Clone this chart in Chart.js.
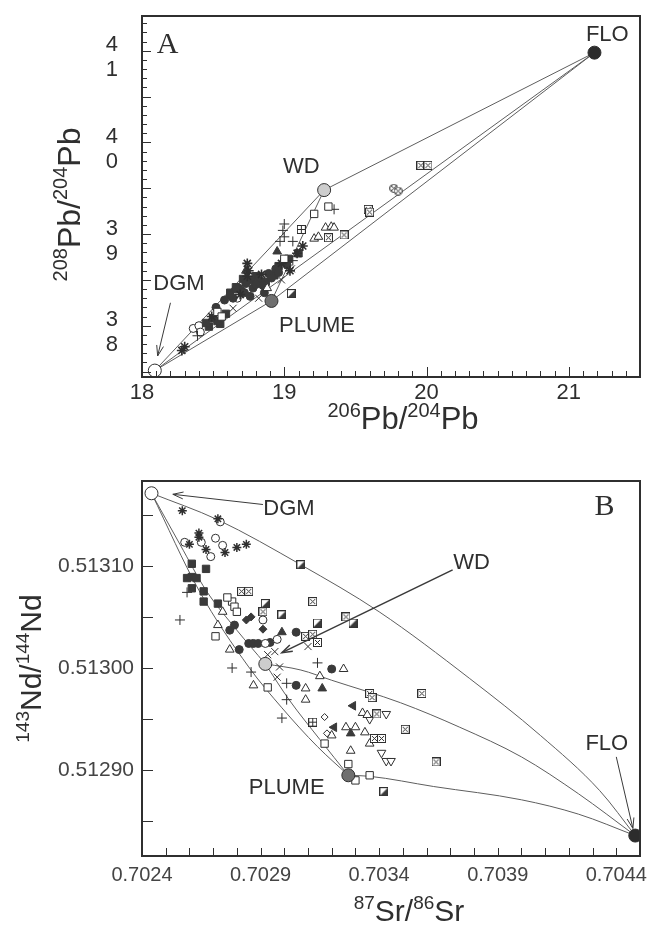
<!DOCTYPE html>
<html>
<head>
<meta charset="utf-8">
<title>Pb and Sr-Nd isotope mixing diagrams</title>
<script src="https://cdn.jsdelivr.net/npm/chart.js@4.4.1/dist/chart.umd.min.js"></script>
<style>
  body { margin: 0; background: #fff; }
  #wrap { position: relative; width: 652px; height: 928px; }
  canvas { position: absolute; left: 0; }
  #chartA { top: 0; }
  #chartB { top: 440px; }
</style>
</head>
<body>
<div id="wrap">
  <canvas id="chartA" width="652" height="440"></canvas>
  <canvas id="chartB" width="652" height="488"></canvas>
</div>
<script>
// ---------- Panel A: 206Pb/204Pb vs 208Pb/204Pb ----------
const pbXTicks = [18, 19, 20, 21];
const pbYTicks = [38, 39, 40, 41];

// end-members, same order in both panels
const endNames = ["DGM", "WD", "PLUME", "FLO"];
const endPb206 = [18.09, 19.28, 18.91, 21.18];
const endPb208 = [37.51, 39.48, 38.27, 40.98];
// which end-members are joined by a mixing line
const mixLinks = [[0, 1], [1, 3], [0, 3], [0, 2], [2, 3], [1, 2]];

// samples, one list per symbol  [206Pb/204Pb, 208Pb/204Pb]
const aOpenSquare = [[19.31, 39.30], [19.21, 39.22], [18.53, 38.15], [18.56, 38.10], [19.00, 38.73]];
const aPlus = [[19.35, 39.27], [18.99, 39.04], [19.00, 38.97], [18.97, 38.92], [19.06, 38.92], [18.39, 37.89], [19.06, 38.71], [19.00, 39.11]];
const aPlusSquare = [[19.12, 39.05]];
const aOpenTriangle = [[19.29, 39.07], [19.33, 39.08], [19.35, 39.07], [19.21, 38.95], [19.24, 38.97], [18.88, 38.41]];
const aCrossSquare = [[19.96, 39.75], [20.01, 39.75], [19.59, 39.27], [19.60, 39.24], [19.42, 38.99], [19.31, 38.96]];
const aCircleCross = [[19.77, 39.50], [19.80, 39.47]];
const aHalfSquare = [[19.05, 38.35]];
const aStar = [[18.74, 38.68], [18.75, 38.60], [18.74, 38.54], [18.30, 37.77], [18.28, 37.73], [18.49, 38.10], [19.13, 38.87], [19.09, 38.79], [19.04, 38.60], [18.69, 38.34], [18.98, 38.68], [18.84, 38.56]];
const aFilledCircle = [[18.68, 38.41], [18.73, 38.46], [18.78, 38.41], [18.83, 38.49], [18.89, 38.57], [18.94, 38.62], [19.00, 38.71], [18.64, 38.30], [18.76, 38.32], [18.70, 38.38], [18.85, 38.44], [18.91, 38.52],
  [18.62, 38.33], [18.66, 38.40], [18.72, 38.36], [18.80, 38.45], [18.58, 38.28], [18.52, 38.20], [18.96, 38.58], [19.02, 38.66], [18.86, 38.36]];
const aFilledSquare = [[18.71, 38.51], [18.80, 38.54], [18.87, 38.48], [18.96, 38.65], [19.03, 38.73], [18.50, 38.08], [18.55, 38.02], [18.47, 37.99], [18.59, 38.13], [19.10, 38.79], [18.62, 38.36],
  [18.66, 38.42], [18.77, 38.50], [18.93, 38.55], [18.53, 38.05], [18.45, 38.03]];
const aFilledTriangle = [[18.95, 38.81], [18.73, 38.60]];
const aOpenCircle = [[18.36, 37.97], [18.40, 38.00], [18.41, 37.93], [18.67, 38.30]];
const aCross = [[18.82, 38.30], [18.90, 38.54], [18.64, 38.19], [18.98, 38.50], [19.05, 38.62]];

// ---------- Panel B: 87Sr/86Sr vs 143Nd/144Nd ----------
const srTicks = [0.7024, 0.7029, 0.7034, 0.7039, 0.7044];
const ndTicks = [0.5129, 0.5130, 0.5131];

const endSr = [0.70244, 0.70292, 0.70327, 0.70448];
const endNd = [0.513171, 0.513004, 0.512895, 0.512836];

// mixing curves  [87Sr/86Sr, 143Nd/144Nd]
const curveDgmWd = [[0.70244, 0.513171], [0.70256, 0.513121], [0.70267, 0.513076], [0.70280, 0.513037], [0.70292, 0.513004]];
const curveWdFlo = [[0.70292, 0.513004], [0.70307, 0.512998], [0.70320, 0.512988], [0.70349, 0.512966], [0.70374, 0.512942], [0.70400, 0.512913], [0.70424, 0.512877], [0.70448, 0.512836]];
const curveDgmFlo = [[0.70244, 0.513171], [0.70272, 0.513145], [0.70307, 0.513101], [0.70340, 0.513055], [0.70378, 0.512990], [0.70408, 0.512934], [0.70433, 0.512880], [0.70448, 0.512836]];
const curveDgmPlume = [[0.70244, 0.513171], [0.70264, 0.513076], [0.70285, 0.513001], [0.70299, 0.512961], [0.70314, 0.512923], [0.70327, 0.512895]];
const curvePlumeFlo = [[0.70327, 0.512895], [0.70336, 0.512894], [0.70363, 0.512884], [0.70400, 0.512871], [0.70424, 0.512857], [0.70448, 0.512836]];
const curveWdPlume = [[0.70292, 0.513004], [0.70302, 0.512969], [0.70315, 0.512930], [0.70327, 0.512895]];

const bStar = [[0.70257, 0.513154], [0.70272, 0.513146], [0.70264, 0.513132], [0.70264, 0.513128], [0.70260, 0.513121], [0.70267, 0.513116], [0.70275, 0.513113], [0.70280, 0.513118], [0.70284, 0.513121]];
const bOpenCircle = [[0.70273, 0.513143], [0.70258, 0.513123], [0.70265, 0.513123], [0.70271, 0.513127], [0.70274, 0.513120], [0.70269, 0.513109], [0.70291, 0.513047], [0.70292, 0.513024], [0.70297, 0.513028]];
const bFilledSquare = [[0.70261, 0.513102], [0.70267, 0.513097], [0.70261, 0.513089], [0.70263, 0.513088], [0.70261, 0.513078], [0.70266, 0.513075], [0.70266, 0.513065], [0.70272, 0.513063], [0.70259, 0.513088]];
const bPlus = [[0.70259, 0.513074], [0.70256, 0.513047], [0.70278, 0.513000], [0.70286, 0.512996], [0.70301, 0.512985], [0.70301, 0.512969], [0.70299, 0.512951], [0.70314, 0.513005]];
const bHalfSquare = [[0.70307, 0.513101], [0.70292, 0.513063], [0.70299, 0.513052], [0.70314, 0.513044], [0.70329, 0.513044], [0.70342, 0.512879]];
const bCrossSquare = [[0.70282, 0.513075], [0.70285, 0.513075], [0.70312, 0.513065], [0.70291, 0.513055], [0.70309, 0.513031], [0.70312, 0.513033], [0.70314, 0.513025], [0.70326, 0.513050], [0.70336, 0.512975], [0.70337, 0.512971], [0.70358, 0.512975], [0.70339, 0.512955], [0.70338, 0.512931], [0.70341, 0.512931], [0.70364, 0.512908], [0.70351, 0.512940]];
const bOpenSquare = [[0.70278, 0.513065], [0.70279, 0.513060], [0.70280, 0.513055], [0.70271, 0.513031], [0.70293, 0.512981], [0.70317, 0.512926], [0.70327, 0.512906], [0.70336, 0.512895], [0.70330, 0.512890], [0.70276, 0.513069]];
const bFilledDiamond = [[0.70284, 0.513047], [0.70286, 0.513050], [0.70291, 0.513038]];
const bFilledCircle = [[0.70305, 0.513035], [0.70285, 0.513024], [0.70287, 0.513024], [0.70289, 0.513024], [0.70294, 0.513025], [0.70281, 0.513018], [0.70320, 0.512999], [0.70305, 0.512983], [0.70277, 0.513037], [0.70279, 0.513042]];
const bOpenTriangle = [[0.70272, 0.513042], [0.70277, 0.513018], [0.70287, 0.512983], [0.70325, 0.512999], [0.70315, 0.512992], [0.70309, 0.512980], [0.70309, 0.512969], [0.70333, 0.512956], [0.70335, 0.512954], [0.70326, 0.512942], [0.70330, 0.512942], [0.70320, 0.512934], [0.70334, 0.512937], [0.70336, 0.512926], [0.70328, 0.512919], [0.70274, 0.513055]];
const bFilledTriangle = [[0.70299, 0.513035], [0.70316, 0.512980], [0.70328, 0.512936]];
const bLeftTriangle = [[0.70329, 0.512963], [0.70321, 0.512942]];
const bInvTriangle = [[0.70343, 0.512955], [0.70336, 0.512950], [0.70341, 0.512917], [0.70343, 0.512909], [0.70345, 0.512909]];
const bCross = [[0.70296, 0.513016], [0.70310, 0.513021], [0.70298, 0.513001], [0.70297, 0.512991], [0.70293, 0.513013]];
const bPlusSquare = [[0.70312, 0.512947]];
const bOpenDiamond = [[0.70317, 0.512952], [0.70318, 0.512936]];

// ---------- styling ----------
const ink = "#2f2f2f";
const mixGray = "#5e5e5e";
const dark = "#3a3a3a";
const endFill = ["#ffffff", "#cdcdcd", "#6f6f6f", "#2c2c2c"];
const fontSans = "'Liberation Sans', Arial, sans-serif";
const fontSerif = "'Liberation Serif', 'Times New Roman', serif";
Chart.defaults.font.family = fontSans;
Chart.defaults.color = ink;

// small canvases used as point styles for the boxed symbols
function markerImage(draw) {
  const c = document.createElement("canvas");
  c.width = 9;
  c.height = 9;
  const g = c.getContext("2d");
  g.strokeStyle = ink;
  g.fillStyle = "#fff";
  g.lineWidth = 1;
  draw(g);
  return c;
}
function box(g) {
  g.fillRect(0.5, 0.5, 8, 8);
  g.strokeRect(0.5, 0.5, 8, 8);
}
const crossSquareImg = markerImage((g) => {
  box(g);
  g.beginPath();
  g.moveTo(2, 2); g.lineTo(7, 7);
  g.moveTo(7, 2); g.lineTo(2, 7);
  g.stroke();
});
const plusSquareImg = markerImage((g) => {
  box(g);
  g.beginPath();
  g.moveTo(4.5, 1); g.lineTo(4.5, 8);
  g.moveTo(1, 4.5); g.lineTo(8, 4.5);
  g.stroke();
});
const halfSquareImg = markerImage((g) => {
  box(g);
  g.fillStyle = dark;
  g.beginPath();
  g.moveTo(8.5, 0.5); g.lineTo(8.5, 8.5); g.lineTo(0.5, 8.5);
  g.closePath();
  g.fill();
});
const circleCrossImg = markerImage((g) => {
  g.beginPath();
  g.arc(4.5, 4.5, 4, 0, Math.PI * 2);
  g.fill();
  g.stroke();
  g.beginPath();
  g.moveTo(2, 2); g.lineTo(7, 7);
  g.moveTo(7, 2); g.lineTo(2, 7);
  g.stroke();
});

function pts(list) {
  return list.map(([x, y]) => ({ x, y }));
}

function marks(list, pointStyle, extra) {
  return Object.assign({
    data: pts(list),
    pointStyle,
    pointRadius: 4,
    pointHoverRadius: 4,
    pointBorderWidth: 1,
    pointBorderColor: ink,
    pointBackgroundColor: "#fff",
    showLine: false,
    order: 1,
  }, extra);
}
const filled = { pointBackgroundColor: dark, pointBorderColor: dark };

function mixLine(list) {
  return {
    data: pts(list),
    showLine: true,
    pointRadius: 0,
    borderColor: mixGray,
    borderWidth: 1,
    cubicInterpolationMode: "monotone",
    order: 3,
  };
}

function endSet(xs, ys) {
  return {
    data: xs.map((x, i) => ({ x, y: ys[i] })),
    pointStyle: "circle",
    pointRadius: 6.5,
    pointBorderWidth: 1,
    pointBorderColor: ink,
    pointBackgroundColor: endFill,
    showLine: false,
    order: 0,
  };
}

// ---------- frame, inward ticks, labels, arrows, axis titles ----------
function stepTicks(cfg, min, max, fn) {
  const k0 = Math.ceil((min - cfg.base) / cfg.step - 1e-6);
  const k1 = Math.floor((max - cfg.base) / cfg.step + 1e-6);
  for (let k = k0; k <= k1; k++) fn(cfg.base + k * cfg.step, k);
}

function drawArrow(ctx, x1, y1, x2, y2, width) {
  ctx.lineWidth = width;
  ctx.beginPath();
  ctx.moveTo(x1, y1);
  ctx.lineTo(x2, y2);
  ctx.stroke();
  const ang = Math.atan2(y2 - y1, x2 - x1);
  const head = 11;
  ctx.beginPath();
  ctx.moveTo(x2 - head * Math.cos(ang - 0.32), y2 - head * Math.sin(ang - 0.32));
  ctx.lineTo(x2, y2);
  ctx.lineTo(x2 - head * Math.cos(ang + 0.32), y2 - head * Math.sin(ang + 0.32));
  ctx.stroke();
}

function drawTitle(ctx, parts, cx, cy, size, vertical) {
  const fontMain = size + "px " + fontSans;
  const fontSup = Math.round(size * 0.64) + "px " + fontSans;
  let total = 0;
  const widths = parts.map(([t, sup]) => {
    ctx.font = sup ? fontSup : fontMain;
    const w = ctx.measureText(t).width;
    total += w;
    return w;
  });
  ctx.save();
  ctx.translate(cx, cy);
  if (vertical) ctx.rotate(-Math.PI / 2);
  ctx.textAlign = "left";
  ctx.textBaseline = "alphabetic";
  const base = size * 0.36;
  let x = -total / 2;
  parts.forEach(([t, sup], i) => {
    ctx.font = sup ? fontSup : fontMain;
    ctx.fillText(t, x, sup ? base - size * 0.4 : base);
    x += widths[i];
  });
  ctx.restore();
}

const paperPlugin = {
  id: "paper",
  afterDraw(chart, args, o) {
    const { ctx, chartArea: a } = chart;
    const sx = chart.scales.x;
    const sy = chart.scales.y;
    ctx.save();
    ctx.strokeStyle = ink;
    ctx.fillStyle = ink;

    // ticks pointing into the plot
    ctx.lineWidth = 1;
    stepTicks(o.xTicks, sx.min, sx.max, (v, k) => {
      const px = Math.round(sx.getPixelForValue(v)) + 0.5;
      if (px < a.left + 2 || px > a.right - 2) return;
      const len = k % o.xTicks.every === 0 ? o.xTicks.majorLen : o.xTicks.len;
      ctx.beginPath();
      ctx.moveTo(px, a.bottom);
      ctx.lineTo(px, a.bottom - len);
      ctx.stroke();
    });
    stepTicks(o.yTicks, sy.min, sy.max, (v, k) => {
      const py = Math.round(sy.getPixelForValue(v)) + 0.5;
      if (py < a.top + 2 || py > a.bottom - 2) return;
      const len = k % o.yTicks.every === 0 ? o.yTicks.majorLen : o.yTicks.len;
      ctx.beginPath();
      ctx.moveTo(a.left, py);
      ctx.lineTo(a.left + len, py);
      ctx.stroke();
    });

    // plot frame
    ctx.lineWidth = 2;
    ctx.strokeRect(a.left, a.top, a.right - a.left, a.bottom - a.top);

    // arrows to the end-members
    ctx.strokeStyle = "#3a3a3a";
    o.arrows.forEach((ar) => {
      drawArrow(ctx, sx.getPixelForValue(ar.from[0]), sy.getPixelForValue(ar.from[1]),
        sx.getPixelForValue(ar.to[0]), sy.getPixelForValue(ar.to[1]), ar.width || 1);
    });

    // end-member names
    ctx.textAlign = "center";
    ctx.textBaseline = "middle";
    ctx.font = o.labelSize + "px " + fontSans;
    o.labels.forEach((lb) => {
      ctx.fillText(lb.text, sx.getPixelForValue(lb.x), sy.getPixelForValue(lb.y));
    });

    // panel letter
    ctx.font = o.panel.size + "px " + fontSerif;
    ctx.fillText(o.panel.text, sx.getPixelForValue(o.panel.x), sy.getPixelForValue(o.panel.y));

    // axis titles with superscript mass numbers
    const midX = (a.left + a.right) / 2;
    const midY = (a.top + a.bottom) / 2;
    drawTitle(ctx, o.xTitle.parts, midX + o.xTitle.dx, a.bottom + o.xTitle.dy, o.xTitle.size, false);
    drawTitle(ctx, o.yTitle.parts, o.yTitle.x, midY + o.yTitle.dy, o.yTitle.size, true);
    ctx.restore();
  },
};

function baseOptions(pad, xHeight) {
  return {
    responsive: false,
    animation: false,
    devicePixelRatio: 1,
    layout: { padding: { left: 0, right: 12, top: pad, bottom: 0 } },
    plugins: { legend: { display: false }, tooltip: { enabled: false } },
    scales: {
      x: {
        type: "linear",
        grid: { display: false, drawTicks: false },
        border: { display: false },
        afterFit: (s) => { s.height = xHeight; s.paddingLeft = 0; s.paddingRight = 0; },
      },
      y: {
        type: "linear",
        grid: { display: false, drawTicks: false },
        border: { display: false },
        afterFit: (s) => { s.width = 142; s.paddingTop = 0; s.paddingBottom = 0; },
      },
    },
  };
}

// ---------- Chart A ----------
const optsA = baseOptions(16, 63);
Object.assign(optsA.scales.x, {
  min: 18,
  max: 21.5,
  afterBuildTicks: (s) => { s.ticks = pbXTicks.map((v) => ({ value: v })); },
  ticks: { padding: 3, font: { size: 22 }, color: ink, callback: (v) => String(v) },
});
Object.assign(optsA.scales.y, {
  min: 37.44,
  max: 41.38,
  afterBuildTicks: (s) => { s.ticks = pbYTicks.map((v) => ({ value: v })); },
  ticks: {
    padding: 24,
    labelOffset: 7,
    font: { size: 22, lineHeight: 1.13 },
    color: ink,
    callback: (v) => String(v).split(""),
  },
});
optsA.plugins.paper = {
  xTicks: { base: 18, step: 0.1, every: 10, len: 6, majorLen: 10 },
  yTicks: { base: 37.5, step: 0.1, every: 5, len: 5, majorLen: 9 },
  labelSize: 22,
  labels: [
    { text: "FLO", x: 21.27, y: 41.17 },
    { text: "WD", x: 19.12, y: 39.73 },
    { text: "PLUME", x: 19.23, y: 38.0 },
    { text: "DGM", x: 18.26, y: 38.46 },
  ],
  arrows: [{ from: [18.2, 38.25], to: [18.11, 37.67] }],
  panel: { text: "A", x: 18.18, y: 41.06, size: 30 },
  xTitle: { parts: [["206", 1], ["Pb/", 0], ["204", 1], ["Pb", 0]], dx: 12, dy: 41, size: 31 },
  yTitle: { parts: [["208", 1], ["Pb/", 0], ["204", 1], ["Pb", 0]], x: 68, dy: 8, size: 32 },
};

const datasetsA = [
  ...mixLinks.map(([i, j]) => Object.assign(mixLine([[endPb206[i], endPb208[i]], [endPb206[j], endPb208[j]]]), { cubicInterpolationMode: "default", tension: 0 })),
  marks(aOpenSquare, "rect", { pointRadius: 5.2 }),
  marks(aPlus, "cross", { pointRadius: 5 }),
  marks(aPlusSquare, plusSquareImg),
  marks(aOpenTriangle, "triangle", { pointRadius: 5 }),
  marks(aCrossSquare, crossSquareImg),
  marks(aCircleCross, circleCrossImg),
  marks(aHalfSquare, halfSquareImg),
  marks(aStar, "star", { pointRadius: 5, pointBorderWidth: 1.6 }),
  marks(aFilledCircle, "circle", filled),
  marks(aFilledSquare, "rect", Object.assign({ pointRadius: 5.2 }, filled)),
  marks(aFilledTriangle, "triangle", Object.assign({ pointRadius: 5 }, filled)),
  marks(aOpenCircle, "circle"),
  marks(aCross, "crossRot", { pointRadius: 5 }),
  endSet(endPb206, endPb208),
];

new Chart(document.getElementById("chartA").getContext("2d"), {
  type: "scatter",
  data: { datasets: datasetsA },
  options: optsA,
  plugins: [paperPlugin],
});

// ---------- Chart B ----------
const optsB = baseOptions(41, 72);
Object.assign(optsB.scales.x, {
  min: 0.7024,
  max: 0.7045,
  afterBuildTicks: (s) => { s.ticks = srTicks.map((v) => ({ value: v })); },
  ticks: { padding: 7, font: { size: 20 }, color: "#444", callback: (v) => v.toFixed(4) },
});
Object.assign(optsB.scales.y, {
  min: 0.512816,
  max: 0.513183,
  afterBuildTicks: (s) => { s.ticks = ndTicks.map((v) => ({ value: v })); },
  ticks: { padding: 8, font: { size: 21 }, color: "#444", callback: (v) => v.toFixed(5) },
});
optsB.plugins.paper = {
  xTicks: { base: 0.7024, step: 0.0001, every: 1, len: 8, majorLen: 8 },
  yTicks: { base: 0.5128, step: 0.00005, every: 1, len: 11, majorLen: 11 },
  labelSize: 22,
  labels: [
    { text: "DGM", x: 0.70302, y: 0.513156 },
    { text: "WD", x: 0.70379, y: 0.513103 },
    { text: "PLUME", x: 0.70301, y: 0.512883 },
    { text: "FLO", x: 0.70436, y: 0.512926 },
  ],
  arrows: [
    { from: [0.70291, 0.513160], to: [0.70253, 0.513170] },
    { from: [0.70371, 0.513096], to: [0.70299, 0.513015], width: 1.5 },
    { from: [0.70440, 0.512913], to: [0.70447, 0.512843] },
  ],
  panel: { text: "B", x: 0.70435, y: 0.513157, size: 30 },
  xTitle: { parts: [["87", 1], ["Sr/", 0], ["86", 1], ["Sr", 0]], dx: 18, dy: 54, size: 30 },
  yTitle: { parts: [["143", 1], ["Nd/", 0], ["144", 1], ["Nd", 0]], x: 30, dy: 0, size: 30 },
};

const datasetsB = [
  ...[curveDgmWd, curveWdFlo, curveDgmFlo, curveDgmPlume, curvePlumeFlo, curveWdPlume].map(mixLine),
  marks(bStar, "star", { pointRadius: 4.5, pointBorderWidth: 1.5 }),
  marks(bOpenCircle, "circle"),
  marks(bFilledSquare, "rect", Object.assign({ pointRadius: 5.2 }, filled)),
  marks(bPlus, "cross", { pointRadius: 5 }),
  marks(bHalfSquare, halfSquareImg),
  marks(bCrossSquare, crossSquareImg),
  marks(bOpenSquare, "rect", { pointRadius: 5.2 }),
  marks(bFilledDiamond, "rectRot", Object.assign({ pointRadius: 4 }, filled)),
  marks(bFilledCircle, "circle", filled),
  marks(bOpenTriangle, "triangle", { pointRadius: 5 }),
  marks(bFilledTriangle, "triangle", Object.assign({ pointRadius: 5 }, filled)),
  marks(bLeftTriangle, "triangle", Object.assign({ pointRadius: 5, pointRotation: -90 }, filled)),
  marks(bInvTriangle, "triangle", { pointRadius: 5, pointRotation: 180 }),
  marks(bCross, "crossRot", { pointRadius: 5 }),
  marks(bPlusSquare, plusSquareImg),
  marks(bOpenDiamond, "rectRot", { pointRadius: 3.5 }),
  endSet(endSr, endNd),
];

new Chart(document.getElementById("chartB").getContext("2d"), {
  type: "scatter",
  data: { datasets: datasetsB },
  options: optsB,
  plugins: [paperPlugin],
});
</script>
</body>
</html>
